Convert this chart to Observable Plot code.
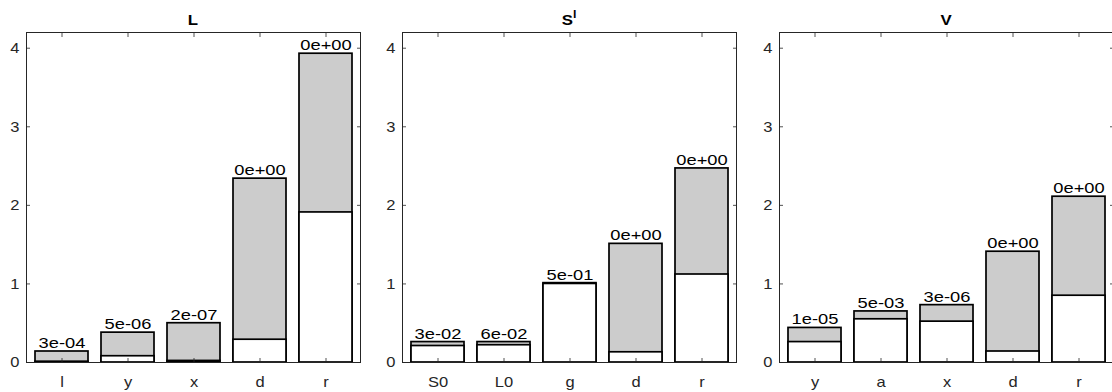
<!DOCTYPE html>
<html>
<head>
<meta charset="utf-8">
<script src="https://cdn.jsdelivr.net/npm/d3@7"></script>
<script src="https://cdn.jsdelivr.net/npm/@observablehq/plot@0.6"></script>
<style>
  html, body { margin: 0; padding: 0; background: #fff; overflow: hidden; }
  #wrap { position: relative; width: 1112px; height: 392px; overflow: hidden;
          font-family: "Liberation Sans", Arial, Helvetica, sans-serif; }
  .panel { position: absolute; top: 0; }
  .panel svg { max-width: none !important; display: block; }
  .title { position: absolute; top: 11px; font-weight: bold; font-size: 15px; line-height: 17px;
           color: #000; white-space: nowrap; transform: translateX(-50%) scaleX(1.12); }
  .title sup { font-size: 11px; position: relative; top: -1px; line-height: 0; }
</style>
</head>
<body>
<div id="wrap"></div>
<script>
// ---- data ----
const catsL   = ["l", "y", "x", "d", "r"];
const totalL  = [0.14, 0.38, 0.50, 2.34, 3.93];
const firstL  = [0.01, 0.08, 0.02, 0.29, 1.91];
const labelsL = ["3e-04", "5e-06", "2e-07", "0e+00", "0e+00"];

const catsS   = ["S0", "L0", "g", "d", "r"];
const totalS  = [0.26, 0.26, 1.01, 1.51, 2.47];
const firstS  = [0.21, 0.22, 1.00, 0.13, 1.12];
const labelsS = ["3e-02", "6e-02", "5e-01", "0e+00", "0e+00"];

const catsV   = ["y", "a", "x", "d", "r"];
const totalV  = [0.44, 0.65, 0.73, 1.41, 2.11];
const firstV  = [0.26, 0.55, 0.52, 0.14, 0.85];
const labelsV = ["1e-05", "5e-03", "3e-06", "0e+00", "0e+00"];

const yTicks = [0, 1, 2, 3, 4];
const yMax = 4.2;

const panels = [
  {title: "L", sup: "", cats: catsL, total: totalL, first: firstL, labels: labelsL, left: 0},
  {title: "S", sup: "l", cats: catsS, total: totalS, first: firstS, labels: labelsS, left: 376.3},
  {title: "V", sup: "", cats: catsV, total: totalV, first: firstV, labels: labelsV, left: 753}
];

const ML = 26, MR = 14, FW = 334, W = ML + FW + MR, H = 392, MT = 32, MB = 30;
const axisColor = "#262626";
const wrap = document.getElementById("wrap");

function stretch(nodes, k) {
  nodes.forEach(t => {
    const len = t.getComputedTextLength();
    if (len > 0) {
      t.setAttribute("textLength", (len * k).toFixed(2));
      t.setAttribute("lengthAdjust", "spacingAndGlyphs");
    }
  });
}

panels.forEach(p => {
  const data = p.cats.map((c, i) => ({cat: c, total: p.total[i], first: p.first[i], label: p.labels[i]}));
  const chart = Plot.plot({
    width: W, height: H,
    marginLeft: ML, marginRight: MR, marginTop: MT, marginBottom: MB,
    style: {fontFamily: '"Liberation Sans", Arial, Helvetica, sans-serif', fontSize: "15px", color: axisColor, background: "transparent", overflow: "visible", maxWidth: "none"},
    x: {domain: p.cats, paddingInner: 0.2, paddingOuter: 0.1, label: null},
    y: {domain: [0, yMax], label: null},
    marks: [
      Plot.barY(data, {x: "cat", y: "total", fill: "#cccccc", stroke: "#000", strokeWidth: 1.7}),
      Plot.barY(data, {x: "cat", y: "first", fill: "#ffffff", stroke: "#000", strokeWidth: 1.7}),
      Plot.text(data, {x: "cat", y: "total", text: "label", lineAnchor: "bottom", dy: -3.5, fill: "#000", fontSize: 15, className: "barlabel"}),
      Plot.frame({stroke: axisColor, strokeWidth: 1}),
      Plot.axisY(yTicks, {anchor: "left", tickSize: -4, tickPadding: 11, tickFormat: d => String(d), label: null, stroke: axisColor, fill: axisColor, strokeWidth: 0.8}),
      Plot.axisY(yTicks, {anchor: "right", tickSize: -4, fill: "none", label: null, stroke: axisColor, strokeWidth: 0.8}),
      Plot.axisX({anchor: "bottom", tickSize: -4, tickPadding: 18, label: null, stroke: axisColor, fill: axisColor, strokeWidth: 0.8}),
      Plot.axisX({anchor: "top", tickSize: -4, fill: "none", label: null, stroke: axisColor, strokeWidth: 0.8})
    ]
  });
  const holder = document.createElement("div");
  holder.className = "panel";
  holder.style.left = p.left + "px";
  holder.style.width = W + "px";
  holder.appendChild(chart);
  wrap.appendChild(holder);
  const barTexts = Array.from(chart.querySelectorAll(".barlabel text"));
  const otherTexts = Array.from(chart.querySelectorAll("text")).filter(t => !barTexts.includes(t));
  stretch(barTexts, 1.22);
  stretch(otherTexts, 1.1);

  const t = document.createElement("div");
  t.className = "title";
  t.style.left = (p.left + ML + FW / 2) + "px";
  t.textContent = p.title;
  if (p.sup) {
    const s = document.createElement("sup");
    s.textContent = p.sup;
    t.appendChild(s);
  }
  wrap.appendChild(t);
});
</script>
</body>
</html>
